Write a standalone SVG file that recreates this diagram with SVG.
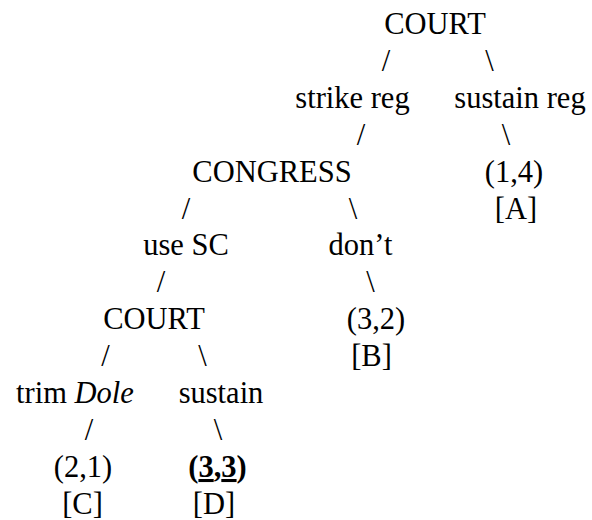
<svg xmlns="http://www.w3.org/2000/svg" width="592" height="520" viewBox="0 0 592 520">
<style>
text{font-size:30.5px;fill:#000;text-anchor:middle}
.b{font-weight:bold}
.i{font-style:italic}
.u{text-decoration:underline}
</style>
<rect width="592" height="520" fill="#fff"/>
<g font-family="'Times New Roman', 'Liberation Serif', 'DejaVu Serif', serif">
<g id="court1"><text x="435" y="34">COURT</text></g>
<g id="strike"><text x="352.5" y="108">strike reg</text></g>
<g id="sustainreg"><text x="520" y="108">sustain reg</text></g>
<g id="congress"><text x="272" y="182">CONGRESS</text></g>
<g id="outA"><text x="514" y="182">(1,4)</text><text x="516" y="219">[A]</text></g>
<g id="usesc"><text x="186" y="255">use SC</text></g>
<g id="dont"><text x="360.5" y="255">don’t</text></g>
<g id="court2"><text x="154" y="329">COURT</text></g>
<g id="outB"><text x="376" y="329">(3,2)</text><text x="371.5" y="366">[B]</text></g>
<g id="trim"><text x="75" y="403">trim <tspan class="i">Dole</tspan></text></g>
<g id="sustain"><text x="221" y="403">sustain</text></g>
<g id="outC"><text x="83" y="477">(2,1)</text><text x="82.5" y="514">[C]</text></g>
<g id="outD"><text x="217.5" y="477" class="b">(<tspan class="u">3</tspan>,<tspan class="u">3</tspan>)</text><text x="214" y="514">[D]</text></g>
<g id="connectors">
<text x="386" y="71">/</text><text x="489.5" y="71">\</text>
<text x="361" y="145">/</text><text x="506" y="145">\</text>
<text x="186" y="219">/</text><text x="353" y="219">\</text>
<text x="161" y="292">/</text><text x="370.5" y="292">\</text>
<text x="105.5" y="366">/</text><text x="202.5" y="366">\</text>
<text x="89" y="440">/</text><text x="218" y="440">\</text>
</g>
</g>
</svg>
